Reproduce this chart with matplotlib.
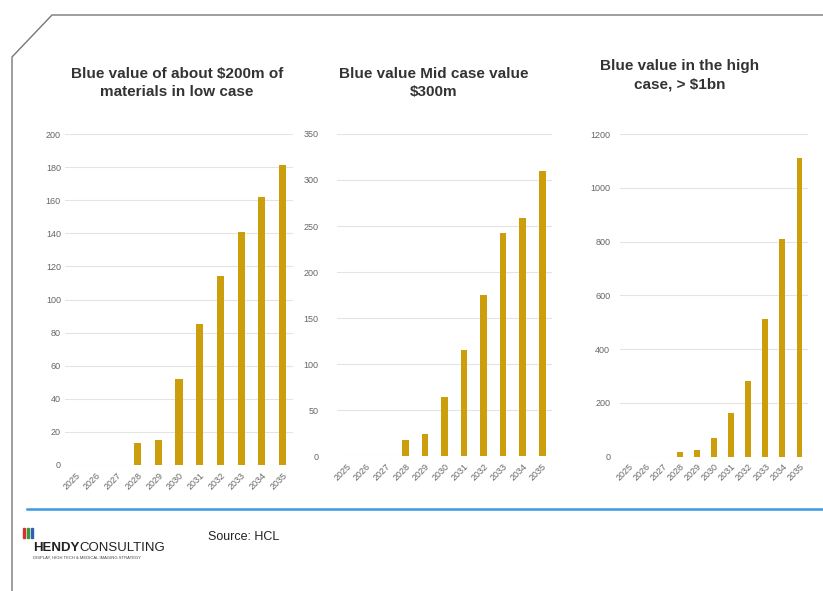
import matplotlib
matplotlib.use("Agg")
import matplotlib.pyplot as plt
from matplotlib.lines import Line2D
from matplotlib.patches import Rectangle

years = ["2025", "2026", "2027", "2028", "2029", "2030", "2031", "2032", "2033", "2034", "2035"]
low_case = [0, 0, 0, 13.5, 15, 52, 85, 114.5, 140.5, 162, 181]
mid_case = [0, 0, 0, 17.5, 23.5, 64, 115, 175, 242.5, 259, 310]
high_case = [0, 0, 0, 18, 25, 68, 161, 281, 512, 809, 1110]

titles = ["Blue value of about $200m of\nmaterials in low case",
          "Blue value Mid case value\n$300m",
          "Blue value in the high\ncase, > $1bn"]
ylims = [200, 350, 1200]
ysteps = [20, 50, 200]
series = [low_case, mid_case, high_case]

plt.rcParams['font.family'] = ['Liberation Sans', 'DejaVu Sans']

W, H = 823, 591
fig = plt.figure(figsize=(W / 100, H / 100), dpi=100)

def fx(px):
    return px / W

def fy(py):
    return 1 - py / H

# axes boxes in pixels: left, right, top(y), bottom(y)
boxes = [(65, 293, 134, 465), (337, 552, 134, 456), (620, 808, 134, 456.7)]
ypads = [3, 13.5, 7]
title_pos = [(177, 83), (434, 83), (680, 75)]

bar_color = "#CC9E0C"

for i, (vals, box) in enumerate(zip(series, boxes)):
    l, r, t, b = box
    ax = fig.add_axes([fx(l), fy(b), (r - l) / W, (b - t) / H])
    x = list(range(len(years)))
    ax.bar(x, vals, width=0.34, color=bar_color, zorder=3)
    ax.set_xlim(-0.5, len(years) - 0.5)
    ax.set_ylim(0, ylims[i])
    ax.set_yticks(list(range(0, ylims[i] + 1, ysteps[i])))
    ax.set_xticks(x)
    ax.set_xticklabels(years, rotation=45, ha="right", rotation_mode="anchor")
    ax.tick_params(axis="both", length=0, labelsize=6.5, labelcolor="#666666")
    ax.tick_params(axis="y", pad=ypads[i])
    ax.tick_params(axis="x", pad=4)
    ax.grid(axis="y", color="#e4e4e4", linewidth=0.8, zorder=0)
    for s in ax.spines.values():
        s.set_visible(False)
    ax.set_facecolor("none")
    tx, ty = title_pos[i]
    fig.text(fx(tx), fy(ty), titles[i], ha="center", va="center",
             fontsize=11, fontweight="bold", color="#333333", linespacing=1.4)

# slide frame
fig.add_artist(Line2D([fx(12), fx(12), fx(52), fx(823)],
                      [fy(591), fy(57), fy(15), fy(15)],
                      color="#777777", linewidth=1.0))
# blue separator
fig.add_artist(Line2D([fx(27), fx(823)], [fy(509), fy(509)],
                      color="#3a9be0", linewidth=1.8))

# source
fig.text(fx(208), fy(537), "Source: HCL", fontsize=9, color="#222222", va="center")

# logo
for j, c in enumerate(["#d93030", "#3a9a3a", "#2f5fb0"]):
    fig.add_artist(Rectangle((fx(23 + j * 4), fy(538)), 2 / W, 10 / H,
                             color=c, transform=fig.transFigure))
t1 = fig.text(fx(33), fy(548), "HENDY", fontsize=9.5, fontweight="bold",
              color="#222222", va="center")
fig.canvas.draw()
bb = t1.get_window_extent(renderer=fig.canvas.get_renderer())
fig.text(bb.x1 / W, fy(548), "CONSULTING", fontsize=9.5, color="#222222", va="center")
fig.text(fx(33), fy(558), "DISPLAY, HIGH TECH & MEDICAL IMAGING STRATEGY",
         fontsize=3, color="#444444", va="center")

fig.savefig("out.png", dpi=100)
